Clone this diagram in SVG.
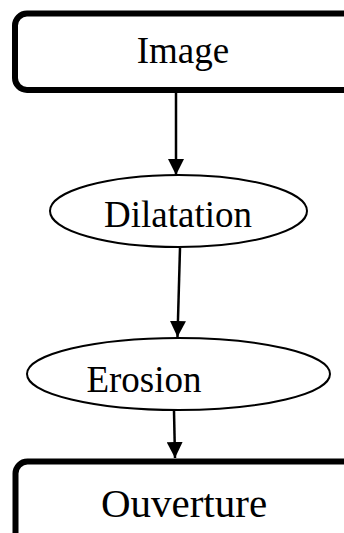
<svg xmlns="http://www.w3.org/2000/svg" width="344" height="533" viewBox="0 0 344 533">
<style>
.box{fill:#fff;stroke:#000;stroke-width:6}
.ell{fill:#fff;stroke:#000;stroke-width:2}
.lbl{font-family:"Liberation Serif","Times New Roman",serif;fill:#000;text-anchor:middle}
.con{stroke:#000;stroke-width:2.5;fill:none}
</style>
<defs>
<marker id="ah" viewBox="0 0 16 16" refX="16" refY="8" markerWidth="16" markerHeight="16" markerUnits="userSpaceOnUse" orient="auto">
<path d="M0,0 L16,8 L0,16 Z" fill="#000"/>
</marker>
</defs>
<rect width="344" height="533" fill="#fff"/>
<g id="connectors">
<line class="con" x1="176" y1="93" x2="176" y2="175" marker-end="url(#ah)"/>
<line class="con" x1="180" y1="248" x2="177.5" y2="337" marker-end="url(#ah)"/>
<line class="con" x1="174" y1="411" x2="175" y2="458" marker-end="url(#ah)"/>
</g>
<g id="node-image">
<rect class="box" x="15" y="13.5" width="340" height="76.5" rx="12" ry="12"/>
<text class="lbl" x="183" y="63" font-size="37">Image</text>
</g>
<g id="node-dilatation">
<ellipse class="ell" cx="178.5" cy="211" rx="128.5" ry="36"/>
<text class="lbl" x="178" y="227" font-size="37">Dilatation</text>
</g>
<g id="node-erosion">
<ellipse class="ell" cx="178.5" cy="374" rx="151.5" ry="36"/>
<text class="lbl" x="144" y="392" font-size="37">Erosion</text>
</g>
<g id="node-ouverture">
<rect class="box" x="15.5" y="461.5" width="340" height="100" rx="12" ry="12"/>
<text class="lbl" x="184" y="517" font-size="41">Ouverture</text>
</g>
</svg>
